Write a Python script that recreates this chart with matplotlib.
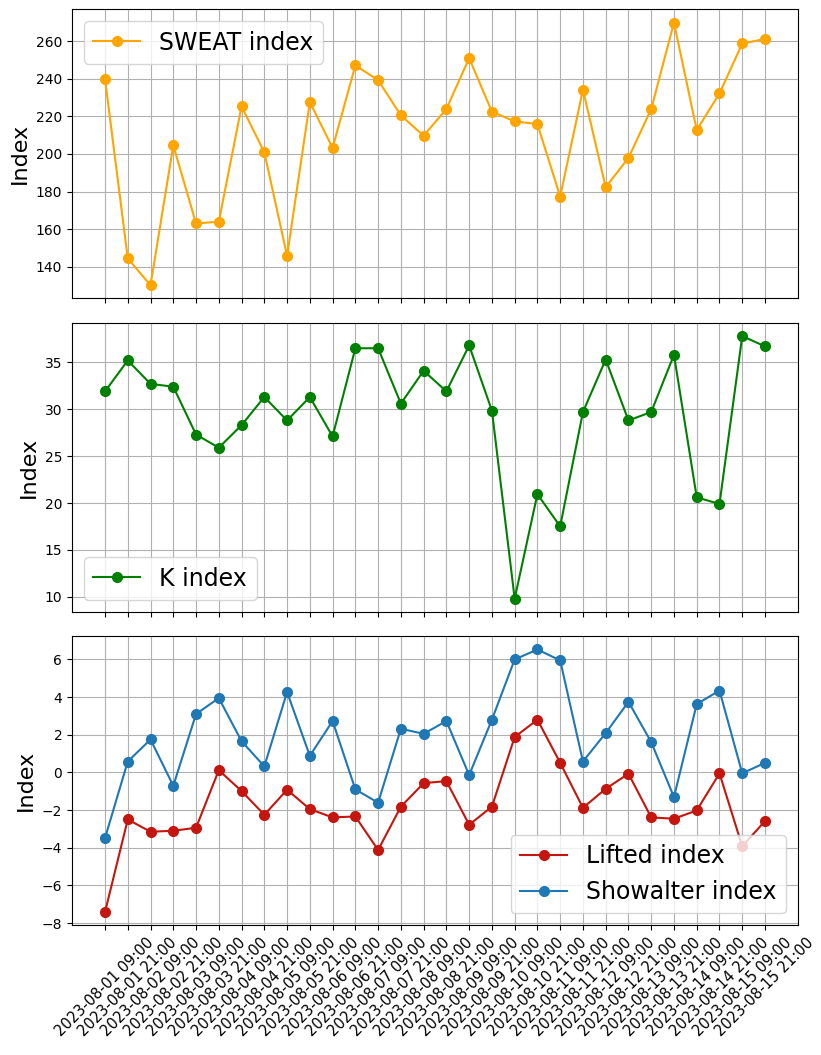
import numpy as np
import matplotlib
matplotlib.use("Agg")
import matplotlib.pyplot as plt

# observation times (twice a day)
times = [f"2023-08-{d:02d} {h}" for d in range(1, 16) for h in ("09:00", "21:00")]

sweat = [240.0, 144.4, 130.1, 204.6, 163.0, 163.9, 225.3, 200.9, 145.7, 227.6,
         203.2, 247.1, 239.3, 220.5, 209.7, 223.9, 251.0, 222.5, 217.3, 215.9,
         177.3, 234.2, 182.3, 197.9, 223.9, 269.9, 212.7, 232.2, 258.8, 261.2]

k_index = [31.9, 35.2, 32.7, 32.4, 27.3, 25.9, 28.3, 31.3, 28.8, 31.3,
           27.1, 36.5, 36.5, 30.6, 34.1, 31.9, 36.8, 29.85, 9.8, 20.95,
           17.5, 29.7, 35.3, 28.8, 29.7, 35.8, 20.6, 19.9, 37.8, 36.7]

lifted = [-7.42, -2.5, -3.15, -3.1, -2.94, 0.12, -0.99, -2.25, -0.92, -1.95,
          -2.39, -2.34, -4.12, -1.82, -0.57, -0.46, -2.78, -1.82, 1.88, 2.8,
          0.51, -1.88, -0.87, -0.07, -2.39, -2.46, -2.02, -0.05, -3.93, -2.58]

showalter = [-3.49, 0.58, 1.75, -0.71, 3.1, 3.95, 1.66, 0.32, 4.27, 0.88,
             2.73, -0.9, -1.61, 2.32, 2.05, 2.73, -0.14, 2.8, 6.0, 6.53,
             5.95, 0.58, 2.09, 3.75, 1.61, -1.31, 3.63, 4.35, -0.05, 0.51]

fig, axes = plt.subplots(3, 1, figsize=(8.21, 10.55), dpi=100, sharex=True)
plt.subplots_adjust(left=0.0877, right=0.972, top=0.991, bottom=0.123, hspace=0.085)

ax1, ax2, ax3 = axes
ax1.plot(times, sweat, marker='o', markersize=7, color='orange', label='SWEAT index')
ax1.legend(loc='upper left', fontsize=17)

ax2.plot(times, k_index, marker='o', markersize=7, color='green', label='K index')
ax2.legend(loc='lower left', fontsize=17)

ax3.plot(times, lifted, marker='o', markersize=7, color='#c4160e', label='Lifted index')
ax3.plot(times, showalter, marker='o', markersize=7, color='#1f77b4', label='Showalter index')
ax3.legend(loc='lower right', fontsize=17)

for ax in axes:
    ax.set_ylabel('Index', fontsize=16)
    ax.grid(True)

ax3.tick_params(axis='x', labelrotation=45, labelsize=10.5)

plt.savefig('out.png', dpi=100)
